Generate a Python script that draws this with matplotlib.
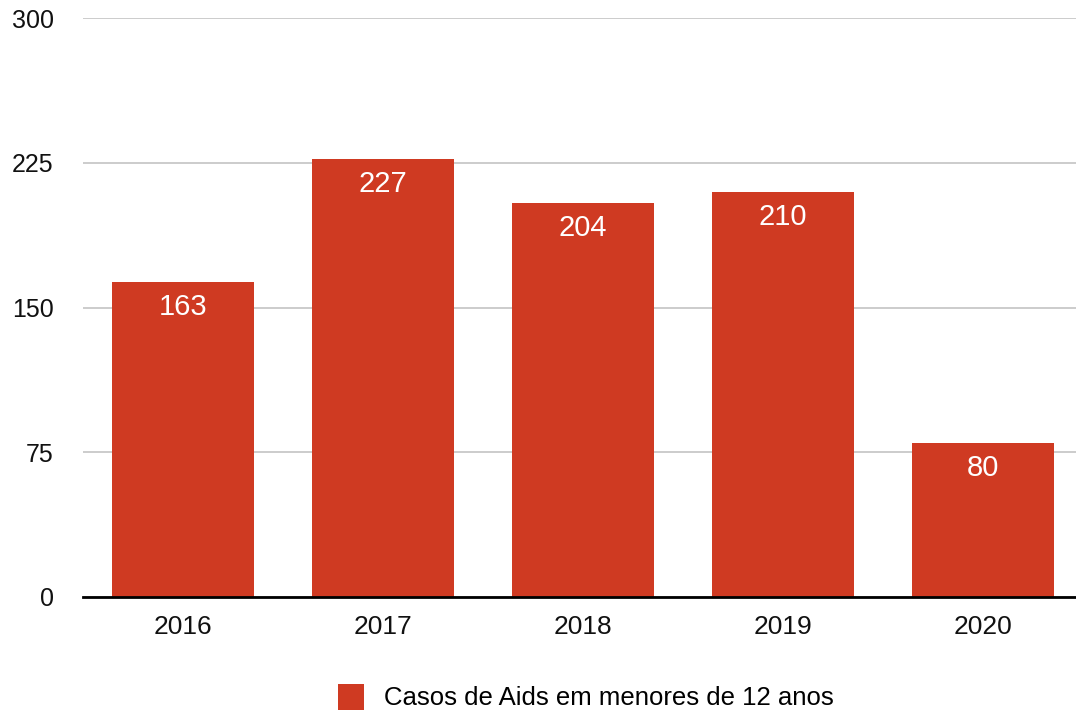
import matplotlib.pyplot as plt
from matplotlib.patches import Patch

plt.rcParams['font.family'] = ['Liberation Sans', 'DejaVu Sans']

years = ["2016", "2017", "2018", "2019", "2020"]
casos = [163, 227, 204, 210, 80]
yticks = [0, 75, 150, 225, 300]
serie = "Casos de Aids em menores de 12 anos"
cor = '#CF3A22'

W, H = 1076, 712
fig = plt.figure(figsize=(W / 100, H / 100), dpi=100)
ax = fig.add_axes([83 / W, 1 - 597 / H, 1000 / W, (597 - 18) / H])

x = range(len(years))
bars = ax.bar(x, casos, width=0.71, color=cor, zorder=2)

ax.set_xlim(-0.5, len(years) - 0.5)
ax.set_ylim(0, 300)
ax.set_yticks(yticks)
ax.set_xticks(list(x))
ax.set_xticklabels(years)

ax.grid(axis='y', color='#cccccc', linewidth=1.4, zorder=0)
ax.set_axisbelow(True)
for s in ['top', 'right', 'left']:
    ax.spines[s].set_visible(False)
ax.spines['bottom'].set_linewidth(2)
ax.spines['bottom'].set_zorder(3)
ax.tick_params(axis='both', length=0, colors='#111111')
ax.tick_params(axis='y', pad=21, labelsize=18)
ax.tick_params(axis='x', pad=13, labelsize=19)

# valores dentro das barras
for b, v in zip(bars, casos):
    ax.annotate(str(v), (b.get_x() + b.get_width() / 2, v),
                xytext=(0, -25), textcoords='offset pixels',
                ha='center', va='center', fontsize=21, color='white')

fig.legend(handles=[Patch(facecolor=cor, label=serie)],
           loc='center', bbox_to_anchor=(586 / W, 1 - 697 / H),
           frameon=False, fontsize=18.5, handlelength=1.0, handleheight=1.2,
           handletextpad=0.8)

fig.savefig('out.png', dpi=100)
